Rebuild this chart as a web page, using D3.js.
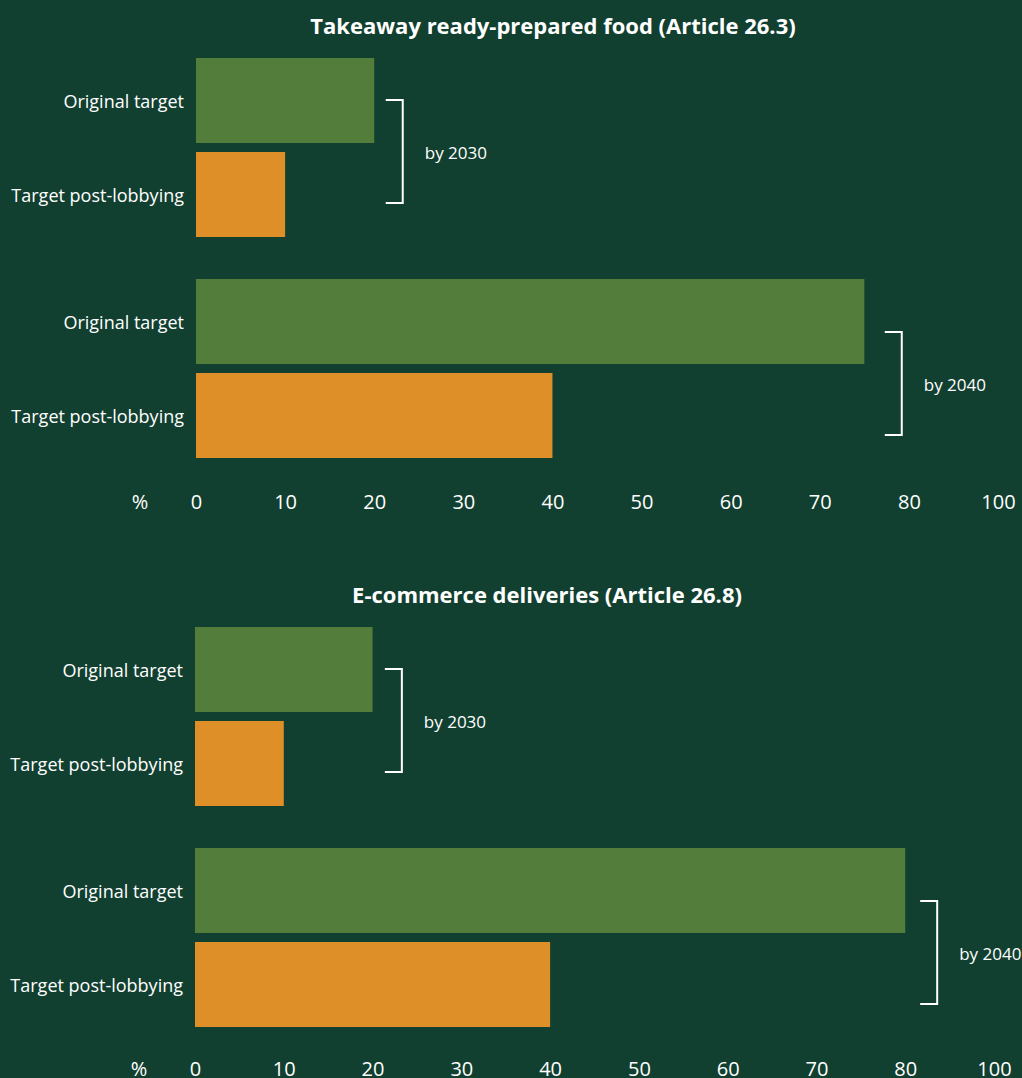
<!DOCTYPE html>
<html><head><meta charset="utf-8">
<script src="https://cdn.jsdelivr.net/npm/d3@7"></script>
<style>
html,body{margin:0;padding:0;background:#124030;}
svg{display:block;}
text{font-family:"Open Sans",sans-serif;fill:#fff;}
</style></head>
<body>
<svg id="chart" width="1022" height="1078"></svg>
<script>
// ---- data ----
const panelTitles = ["Takeaway ready-prepared food (Article 26.3)", "E-commerce deliveries (Article 26.8)"];
const groups = ["by 2030", "by 2040"];
const seriesNames = ["Original target", "Target post-lobbying"];
const takeawayOriginal = [20, 75];
const takeawayPostLobbying = [10, 40];
const ecommerceOriginal = [20, 80];
const ecommercePostLobbying = [10, 40];
// bracket position (in % units) per group
const takeawayBracketAt = [23.2, 79.2];
const ecommerceBracketAt = [23.3, 83.6];
const tickValues = [0, 10, 20, 30, 40, 50, 60, 70, 80, 90];
const tickLabels = ["0", "10", "20", "30", "40", "50", "60", "70", "80", "100"];
const axisUnit = "%";

const colors = {"Original target": "#527d3a", "Target post-lobbying": "#df8f28"};

const panels = [
  {title: panelTitles[0], orig: takeawayOriginal, post: takeawayPostLobbying, bracket: takeawayBracketAt, x0: 196, x90: 998, dy: 0, axisY: 501, titleX: 553},
  {title: panelTitles[1], orig: ecommerceOriginal, post: ecommercePostLobbying, bracket: ecommerceBracketAt, x0: 195, x90: 994, dy: 569, axisY: 499, titleX: 547}
];

const svg = d3.select("#chart");

// bracket offsets relative to group top (layout)
const bracketOffsets = [[42, 145], [53, 156]];

panels.forEach(p => {
  const g = svg.append("g").attr("transform", `translate(0,${p.dy})`);
  const x = d3.scaleLinear().domain([0, 90]).range([p.x0, p.x90]);
  const yGroup = d3.scaleBand().domain(groups).range([58, 458]).paddingInner(42 / 221).paddingOuter(0);
  const yInner = d3.scaleBand().domain(seriesNames).range([0, yGroup.bandwidth()]).paddingInner(9 / 94).paddingOuter(0);

  g.append("text")
    .attr("x", p.titleX)
    .attr("y", 25)
    .attr("text-anchor", "middle")
    .attr("dominant-baseline", "central")
    .style("font-weight", "700")
    .style("font-size", "22px")
    .text(p.title);

  groups.forEach((grp, i) => {
    const rows = [
      {name: seriesNames[0], v: p.orig[i]},
      {name: seriesNames[1], v: p.post[i]}
    ];
    const gg = g.append("g").attr("transform", `translate(0,${yGroup(grp)})`);
    gg.selectAll("rect").data(rows).join("rect")
      .attr("x", x(0))
      .attr("y", d => yInner(d.name))
      .attr("width", d => x(d.v) - x(0))
      .attr("height", yInner.bandwidth())
      .attr("fill", d => colors[d.name]);
    gg.selectAll("text.cat").data(rows).join("text")
      .attr("class", "cat")
      .attr("x", x(0) - 12)
      .attr("y", d => yInner(d.name) + yInner.bandwidth() / 2)
      .attr("text-anchor", "end")
      .attr("dominant-baseline", "central")
      .style("font-size", "18px")
      .text(d => d.name);

    // bracket
    const bx = x(p.bracket[i]);
    const [t, b] = bracketOffsets[i];
    gg.append("path")
      .attr("d", `M${bx - 17},${t}H${bx}V${b}H${bx - 17}`)
      .attr("fill", "none")
      .attr("stroke", "#fff")
      .attr("stroke-width", 2);
    gg.append("text")
      .attr("x", bx + 22)
      .attr("y", (t + b) / 2 + 1)
      .attr("dominant-baseline", "central")
      .style("font-size", "17px")
      .text(grp);
  });

  // axis (labels only)
  const axis = d3.axisBottom(x).tickValues(tickValues)
    .tickFormat((d, i) => tickLabels[i]).tickSize(0).tickPadding(0);
  const ax = g.append("g").attr("transform", `translate(0,${p.axisY})`).call(axis);
  ax.select(".domain").remove();
  ax.selectAll("text")
    .attr("y", 0).attr("dy", null)
    .attr("dominant-baseline", "central")
    .style("font-size", "20px")
    .style("font-family", "'Open Sans',sans-serif")
    .attr("fill", "#fff");
  g.append("text")
    .attr("x", x(0) - 56)
    .attr("y", p.axisY)
    .attr("text-anchor", "middle")
    .attr("dominant-baseline", "central")
    .style("font-size", "20px")
    .text(axisUnit);
});
</script>
</body></html>
